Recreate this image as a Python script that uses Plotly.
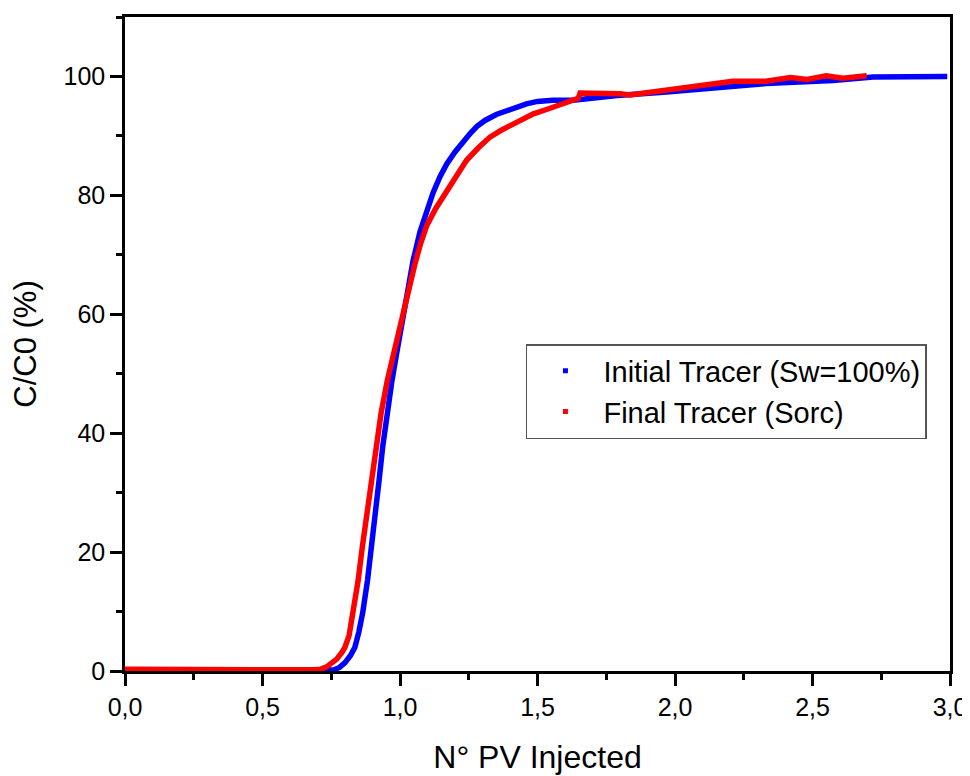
import plotly.graph_objects as go

# Initial Tracer (Sw=100%)
blue_x = [0.0, 0.5, 0.74, 0.76, 0.78, 0.80, 0.82, 0.836, 0.85, 0.864, 0.882, 0.897,
          0.911, 0.924, 0.937, 0.952, 0.970, 0.988, 1.006, 1.027, 1.048, 1.073, 1.097,
          1.12, 1.145, 1.17, 1.20, 1.23, 1.255, 1.28, 1.309, 1.35, 1.388, 1.42, 1.46,
          1.50, 1.556, 1.63, 1.667, 1.727, 1.79, 1.97, 2.15, 2.33, 2.575, 2.72, 2.99]
blue_y = [0.0, 0.0, 0.0, 0.2, 0.6, 1.4, 2.6, 4.0, 6.5, 9.7, 15.3, 20.9,
          26.5, 32.1, 37.7, 43.3, 48.6, 53.5, 58.0, 63.8, 69.1, 73.9, 77.5,
          80.4, 83.1, 85.3, 87.3, 89.1, 90.4, 91.6, 92.6, 93.6, 94.3, 94.9, 95.4,
          95.8, 96.0, 96.0, 96.2, 96.5, 96.8, 97.4, 98.2, 98.8, 99.3, 99.9, 100.0]

# Final Tracer (Sorc)
red_x = [0.0, 0.2, 0.4, 0.6, 0.69, 0.71, 0.733, 0.75, 0.77, 0.79, 0.80, 0.815, 0.830,
         0.848, 0.863, 0.879, 0.894, 0.911, 0.931, 0.954, 0.977, 1.002, 1.028, 1.055,
         1.075, 1.097, 1.13, 1.164, 1.20, 1.242, 1.285, 1.327, 1.37, 1.412, 1.45,
         1.485, 1.53, 1.57, 1.60, 1.63, 1.648, 1.655, 1.70, 1.76, 1.80, 1.836,
         1.87, 1.99, 2.09, 2.21, 2.33, 2.42, 2.48, 2.55, 2.61, 2.697]
red_y = [0.3, 0.2, 0.3, 0.2, 0.2, 0.3, 0.7, 1.2, 2.0, 3.2, 4.0, 6.0, 9.7,
         15.3, 20.9, 26.5, 32.1, 37.7, 43.3, 48.9, 53.6, 58.2, 63.6, 68.6,
         71.9, 74.9, 77.8, 80.3, 83.0, 85.9, 88.0, 89.8, 91.0, 92.0, 92.9,
         93.7, 94.4, 95.1, 95.6, 96.2, 96.3, 97.2, 97.2, 97.1, 97.1, 96.9,
         97.1, 97.8, 98.5, 99.2, 99.2, 99.8, 99.5, 100.1, 99.7, 100.1]

series_names = ["Initial Tracer (Sw=100%)", "Final Tracer (Sorc)"]
series_colors = ["#0000FF", "#FF0000"]

x_title = "N° PV Injected"
y_title = "C/C0 (%)"

FONT = "Arial, Liberation Sans, sans-serif"

fig = go.Figure()
for xs, ys, name, col in [(blue_x, blue_y, series_names[0], series_colors[0]),
                          (red_x, red_y, series_names[1], series_colors[1])]:
    fig.add_trace(go.Scatter(x=xs, y=ys, mode="lines", name=name,
                             line=dict(color=col, width=5.5),
                             showlegend=False))
for name, col in zip(series_names, series_colors):
    fig.add_trace(go.Scatter(x=[None], y=[None], mode="markers", name=name,
                             marker=dict(color=col, symbol="square", size=5)))

axis_common = dict(showline=True, linecolor="black", linewidth=2.5, mirror=True,
                   ticks="outside", tickcolor="black", tickwidth=2.5, ticklen=12,
                   showgrid=False, zeroline=False, automargin=False,
                   tickfont=dict(family=FONT, size=25, color="black"))

fig.update_xaxes(range=[0, 3], dtick=0.5, tick0=0, tickformat=".1f",
                 minor=dict(dtick=0.25, ticklen=6, tickwidth=2.5, ticks="outside",
                            tickcolor="black", showgrid=False),
                 title=dict(text=x_title, font=dict(family=FONT, size=32, color="black"),
                            standoff=26),
                 **axis_common)
fig.update_yaxes(range=[0, 110], dtick=20, tick0=0,
                 minor=dict(dtick=10, ticklen=6, tickwidth=2.5, ticks="outside",
                            tickcolor="black", showgrid=False),
                 title=dict(text=y_title, font=dict(family=FONT, size=31, color="black"),
                            standoff=19),
                 **axis_common)

fig.update_layout(
    width=970, height=776,
    margin=dict(l=117, r=28, t=9, b=113),
    paper_bgcolor="white", plot_bgcolor="white",
    separators=", ",
    legend=dict(x=0.486, y=0.5, xanchor="left", yanchor="top",
                bgcolor="white", bordercolor="#555555", borderwidth=1.5,
                font=dict(family=FONT, size=29, color="black"),
                itemwidth=66),
)

fig.write_html("out.html")
